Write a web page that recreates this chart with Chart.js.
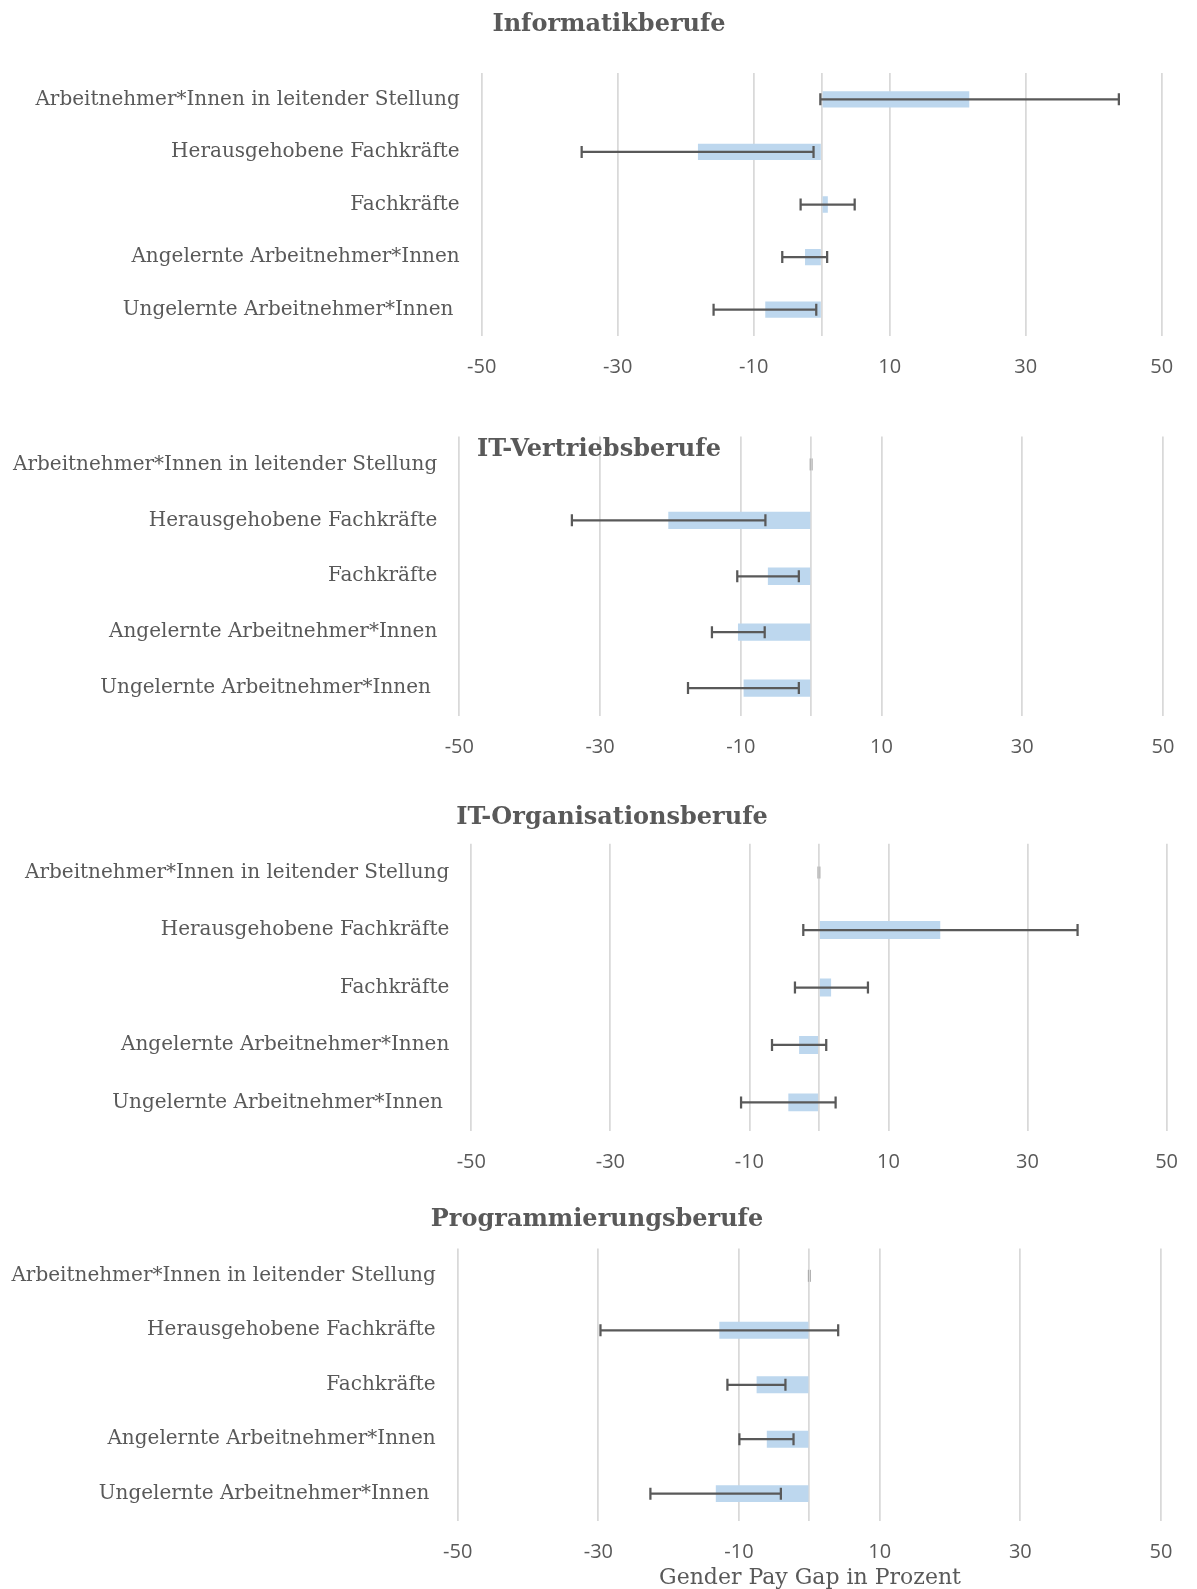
<!DOCTYPE html>
<html lang="de">
<head>
<meta charset="utf-8">
<title>Gender Pay Gap in IT-Berufen</title>
<script src="https://cdn.jsdelivr.net/npm/chart.js@4.4.1/dist/chart.umd.min.js"></script>
<style>
  html, body { margin: 0; padding: 0; background: #fff; }
  #page { position: relative; width: 1197px; height: 1589px; overflow: hidden; }
  .panel { position: absolute; left: 0; }
  .title {
    position: absolute; transform: translate(-50%, -50%); white-space: nowrap;
    font-family: 'DejaVu Serif', serif; font-weight: bold; font-size: 24px; color: #595959;
  }
  .axis-title {
    position: absolute; transform: translate(-50%, -50%); white-space: nowrap;
    font-family: 'DejaVu Serif', serif; font-size: 22px; color: #595959;
  }
</style>
</head>
<body>
<div id="page">
  <canvas id="c1" class="panel"></canvas>
  <canvas id="c2" class="panel"></canvas>
  <canvas id="c3" class="panel"></canvas>
  <canvas id="c4" class="panel"></canvas>
  <div class="title" style="left:609px; top:22px;">Informatikberufe</div>
  <div class="title" style="left:599px; top:447px;">IT-Vertriebsberufe</div>
  <div class="title" style="left:612px; top:815px;">IT-Organisationsberufe</div>
  <div class="title" style="left:597px; top:1217px;">Programmierungsberufe</div>
  <div class="axis-title" style="left:810px; top:1576px;">Gender Pay Gap in Prozent</div>
</div>
<script>
// categories (top to bottom)
const categories = [
  'Arbeitnehmer*Innen in leitender Stellung',
  'Herausgehobene Fachkräfte',
  'Fachkräfte',
  'Angelernte Arbeitnehmer*Innen',
  'Ungelernte Arbeitnehmer*Innen '
];
const xTicks = [-50, -30, -10, 10, 30, 50];

// gender pay gap in % and the ends of the error bars
const informatikGap  = [21.7, -18.2, 0.9, -2.45, -8.3];
const informatikLow  = [-0.2, -35.3, -3.1, -5.8, -15.9];
const informatikHigh = [43.7, -1.2, 4.85, 0.8, -0.8];

const vertriebGap  = [0, -20.3, -6.15, -10.4, -9.6];
const vertriebLow  = [0, -34.0, -10.5, -14.1, -17.5];
const vertriebHigh = [0, -6.5, -1.75, -6.6, -1.75];

const organisationGap  = [0, 17.45, 1.75, -2.85, -4.4];
const organisationLow  = [0, -2.25, -3.45, -6.75, -11.2];
const organisationHigh = [0, 37.2, 7.05, 1.05, 2.4];

const programmierGap  = [0, -12.8, -7.5, -6.05, -13.3];
const programmierLow  = [0, -29.7, -11.65, -9.95, -22.6];
const programmierHigh = [0, 4.1, -3.4, -2.25, -4.05];

const W = 1197;
const textColor = '#595959';

// where each panel sits on the page (page coordinates)
const panels = [
  { id: 'c1', top: 0,    height: 395, plot: { left: 481.7, right: 1161.7, top: 73,     bottom: 336 },
    gap: informatikGap, low: informatikLow, high: informatikHigh },
  { id: 'c2', top: 395,  height: 385, plot: { left: 459.3, right: 1163,   top: 436.5,  bottom: 716 },
    gap: vertriebGap, low: vertriebLow, high: vertriebHigh },
  { id: 'c3', top: 780,  height: 400, plot: { left: 471.3, right: 1176.3, top: 843.8,  bottom: 1131.2 },
    gap: organisationGap, low: organisationLow, high: organisationHigh },
  { id: 'c4', top: 1180, height: 409, plot: { left: 457.7, right: 1161,   top: 1248.6, bottom: 1520.9 },
    gap: programmierGap, low: programmierLow, high: programmierHigh }
];

// draws the confidence interval whiskers over the bars
const errorBars = {
  id: 'errorBars',
  afterDatasetsDraw(chart, args, opts) {
    const ctx = chart.ctx;
    const xScale = chart.scales.x;
    const meta = chart.getDatasetMeta(0);
    const cap = 6;
    ctx.save();
    ctx.lineCap = 'butt';
    opts.low.forEach((lo, i) => {
      const hi = opts.high[i];
      const cy = meta.data[i].y;
      const x1 = xScale.getPixelForValue(lo);
      const x2 = xScale.getPixelForValue(hi);
      if (lo === hi) {
        // empty interval: only a faint marker
        ctx.strokeStyle = '#a6a6a6';
        ctx.lineWidth = 1;
        [x1 - 1, x1 + 1].forEach(px => {
          ctx.beginPath();
          ctx.moveTo(px, cy - cap);
          ctx.lineTo(px, cy + cap);
          ctx.stroke();
        });
        return;
      }
      ctx.strokeStyle = '#595959';
      ctx.lineWidth = 2.25;
      ctx.beginPath();
      ctx.moveTo(x1, cy);
      ctx.lineTo(x2, cy);
      ctx.moveTo(x1, cy - cap);
      ctx.lineTo(x1, cy + cap);
      ctx.moveTo(x2, cy - cap);
      ctx.lineTo(x2, cy + cap);
      ctx.stroke();
    });
    ctx.restore();
  }
};

panels.forEach(p => {
  const canvas = document.getElementById(p.id);
  canvas.width = W;
  canvas.height = p.height;
  canvas.style.top = p.top + 'px';

  new Chart(canvas, {
    type: 'bar',
    data: {
      labels: categories,
      datasets: [{
        data: p.gap,
        backgroundColor: '#BDD7EE',
        borderWidth: 0,
        barPercentage: 0.31,
        categoryPercentage: 1
      }]
    },
    plugins: [errorBars],
    options: {
      indexAxis: 'y',
      responsive: false,
      animation: false,
      devicePixelRatio: 1,
      layout: {
        padding: { top: p.plot.top - p.top, right: W - p.plot.right, left: 0, bottom: 0 }
      },
      plugins: {
        legend: { display: false },
        tooltip: { enabled: false },
        errorBars: { low: p.low, high: p.high }
      },
      scales: {
        x: {
          type: 'linear',
          min: -50,
          max: 50,
          afterBuildTicks: scale => {
            // extra line at 0 where the category axis crosses
            scale.ticks = [...xTicks, 0].sort((a, b) => a - b).map(v => ({ value: v }));
          },
          afterFit: scale => { scale.height = p.top + p.height - p.plot.bottom; },
          grid: { color: '#d9d9d9', lineWidth: 1.75, drawTicks: false },
          border: { display: false },
          ticks: {
            padding: 19,
            color: textColor,
            font: { family: 'Open Sans', size: 20 },
            callback: v => (v === 0 ? '' : v)
          }
        },
        y: {
          afterFit: scale => { scale.width = p.plot.left; },
          grid: { display: false, drawTicks: false },
          border: { display: false },
          ticks: {
            padding: 22,
            color: textColor,
            font: { family: 'DejaVu Serif', size: 20 }
          }
        }
      }
    }
  });
});
</script>
</body>
</html>
